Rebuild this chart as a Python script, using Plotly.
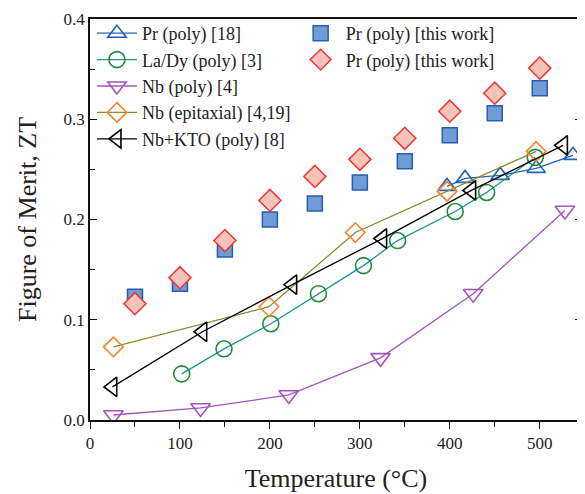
import plotly.graph_objects as go

# ---- data ----
T_this = [50, 100, 150, 200, 250, 300, 350, 400, 450, 500]
ZT_square = [0.123, 0.136, 0.170, 0.200, 0.216, 0.237, 0.258, 0.284, 0.306, 0.331]
ZT_diamond = [0.116, 0.142, 0.179, 0.219, 0.243, 0.260, 0.281, 0.308, 0.326, 0.351]

T_pr18 = [397, 417, 456, 496, 537]
ZT_pr18 = [0.233, 0.241, 0.244, 0.251, 0.264]

T_lady = [102, 149, 201, 254, 304, 342, 406, 441, 495]
ZT_lady = [0.046, 0.071, 0.096, 0.126, 0.154, 0.179, 0.208, 0.227, 0.262]

T_nbpoly = [26, 123, 221, 323, 426, 528]
ZT_nbpoly = [0.005, 0.012, 0.025, 0.062, 0.126, 0.209]

T_nbepi = [26, 199, 295, 397, 496]
ZT_nbepi = [0.073, 0.113, 0.187, 0.228, 0.268]

T_kto = [25, 125, 225, 325, 424, 526]
ZT_kto = [0.033, 0.088, 0.135, 0.181, 0.229, 0.274]

x_ticks = [0, 100, 200, 300, 400, 500]
y_ticks = [0.0, 0.1, 0.2, 0.3, 0.4]

FONT = "Liberation Serif"

fig = go.Figure()

def line_trace(x, y, name, lcolor, mcolor, symbol, size):
    return go.Scatter(
        x=x, y=y, name=name, mode="lines+markers",
        line=dict(color=lcolor, width=1.3),
        marker=dict(symbol=symbol, size=size, color="rgba(255,255,255,0)",
                    line=dict(color=mcolor, width=1.6)),
        legend="legend",
    )

fig.add_trace(line_trace(T_pr18, ZT_pr18, "Pr (poly) [18]", "#2462b8", "#2462b8", "triangle-up", 16))
fig.add_trace(line_trace(T_lady, ZT_lady, "La/Dy (poly) [3]", "#19978c", "#1f8c3c", "circle", 16))
fig.add_trace(line_trace(T_nbpoly, ZT_nbpoly, "Nb (poly) [4]", "#a455bb", "#a455bb", "triangle-down", 17))
fig.add_trace(line_trace(T_nbepi, ZT_nbepi, "Nb (epitaxial) [4,19]", "#8a8a30", "#f5862a", "diamond", 15))
fig.add_trace(line_trace(T_kto, ZT_kto, "Nb+KTO (poly) [8]", "#000000", "#000000", "triangle-left", 17))

fig.add_trace(go.Scatter(
    x=T_this, y=ZT_square, name="Pr (poly) [this work]", mode="markers",
    marker=dict(symbol="square", size=15, color="#6f9bd6", line=dict(color="#2a5cb0", width=1.5)),
    legend="legend2",
))
fig.add_trace(go.Scatter(
    x=T_this, y=ZT_diamond, name="Pr (poly) [this work]", mode="markers",
    marker=dict(symbol="diamond", size=17, color="#f8c2b6", line=dict(color="#e83a3a", width=1.5)),
    legend="legend2",
))

XR = [0, 547]
YR = [0, 0.4]

fig.update_layout(
    width=577, height=486,
    margin=dict(l=82, r=1, t=11, b=74),
    paper_bgcolor="white", plot_bgcolor="white",
    font=dict(family=FONT, size=17, color="#222"),
    showlegend=True,
    legend=dict(x=0.004, y=1.01, xanchor="left", yanchor="top",
                bgcolor="rgba(0,0,0,0)", font=dict(family=FONT, size=18, color="#222"),
                itemwidth=40, tracegroupgap=0),
    legend2=dict(x=0.418, y=1.01, xanchor="left", yanchor="top",
                 bgcolor="rgba(0,0,0,0)", font=dict(family=FONT, size=18, color="#222"),
                 itemwidth=40, tracegroupgap=0),
    xaxis=dict(
        range=XR, tickvals=x_ticks, ticktext=[str(v) for v in x_ticks],
        ticks="outside", ticklen=7, tickwidth=1.3, tickcolor="#111",
        minor=dict(ticks="outside", ticklen=5, dtick=50, tickwidth=1.3, tickcolor="#111"),
        showline=True, linecolor="#111", linewidth=1.6, mirror=True,
        showgrid=False, zeroline=False,
        title=dict(text="Temperature (°C)", font=dict(family=FONT, size=26, color="#222"), standoff=17),
        tickfont=dict(family=FONT, size=17, color="#222"),
    ),
    xaxis2=dict(
        range=XR, overlaying="x", side="top", anchor="y",
        tickvals=x_ticks, showticklabels=False,
        ticks="inside", ticklen=7, tickwidth=1.3, tickcolor="#111",
        minor=dict(ticks="inside", ticklen=5, dtick=50, tickwidth=1.3, tickcolor="#111"),
        showline=False, showgrid=False, zeroline=False,
    ),
    yaxis=dict(
        range=YR, tickvals=y_ticks, ticktext=[f"{v:.1f}" for v in y_ticks],
        ticks="inside", ticklen=7, tickwidth=1.3, tickcolor="#111",
        minor=dict(ticks="inside", ticklen=5, dtick=0.05, tickwidth=1.3, tickcolor="#111"),
        showline=True, linecolor="#111", linewidth=1.6, mirror="ticks",
        showgrid=False, zeroline=False,
        title=dict(text="Figure of Merit, ZT", font=dict(family=FONT, size=26, color="#222"), standoff=19),
        tickfont=dict(family=FONT, size=17, color="#222"),
    ),
)

fig.write_html("out.html")
